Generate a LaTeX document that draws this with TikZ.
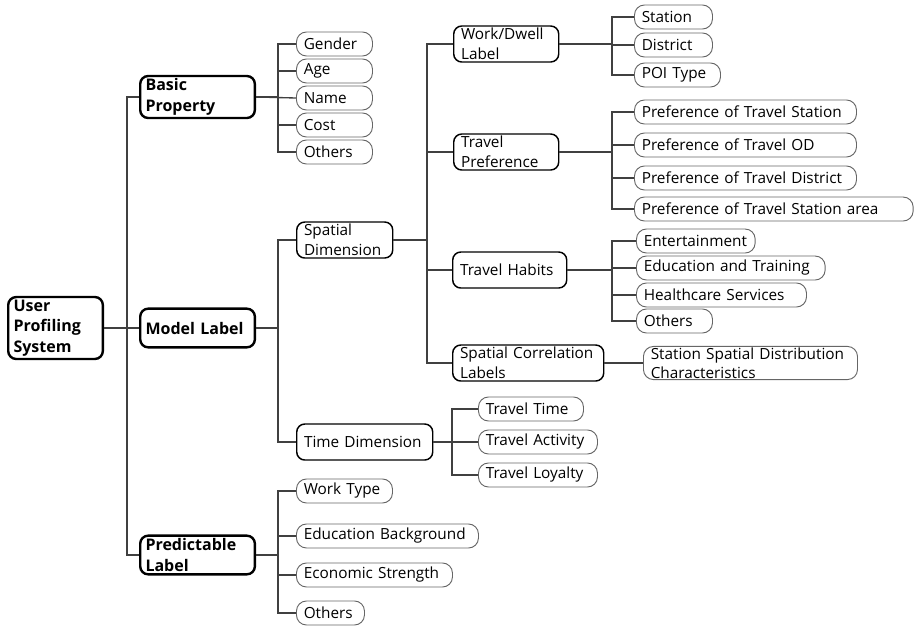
\documentclass[tikz,border=0pt]{standalone}
\usepackage{fontspec}
\setmainfont{Open Sans}
\usetikzlibrary{calc}
\hyphenpenalty=10000
\exhyphenpenalty=10000

\begin{document}
\begin{tikzpicture}[x=0.75pt, y=-0.75pt,
    link/.style={draw=black!75, line width=1pt},
    sysbox/.style={draw=black, line width=1.8pt, rounded corners=6pt, align=left, text width=63pt, inner xsep=4pt, inner ysep=2pt, font=\fontsize{12}{15.5}\selectfont\bfseries},
    catbox/.style={draw=black, line width=1.8pt, rounded corners=6pt, align=left, text width=78pt, inner xsep=4pt, inner ysep=2pt, minimum height=29pt, font=\fontsize{12}{15.5}\selectfont\bfseries},
    dimbox/.style={draw=black, line width=1.1pt, rounded corners=6pt, align=left, text width=#1, inner xsep=5.5pt, inner ysep=1pt, minimum height=27pt, font=\fontsize{11.5}{15}\selectfont},
    leafbox/.style={draw=black!60, line width=0.7pt, rounded corners=7.5pt, align=left, text width=#1, inner xsep=5.5pt, inner ysep=1pt, minimum height=18pt, font=\fontsize{11.5}{14}\selectfont},
]
    \useasboundingbox (0,0) rectangle (917,625);
    % Trunks
    \coordinate (t0) at (127,0);
    \coordinate (t1) at (278,0);
    \coordinate (t2) at (427,0);
    \coordinate (t3) at (452,0);
    \coordinate (t4) at (612,0);
    % Root and first level
    \node[sysbox, anchor=west] (ups) at (7,328) {User\\Profiling\\System};
    \node[catbox, anchor=west] (basic) at (139,97) {Basic\\Property};
    \node[catbox, anchor=west] (model) at (139,328) {Model Label};
    \node[catbox, anchor=west] (pred) at (139,555) {Predictable\\Label};
    \draw[link] (ups.east) -| (t0 |- basic.west) -- (basic.west);
    \draw[link] (ups.east) -- (model.west);
    \draw[link] (ups.east) -| (t0 |- pred.west) -- (pred.west);
    % Basic property
    \node[leafbox=46pt, anchor=west] (gender) at (296,44) {Gender};
    \node[leafbox=46pt, anchor=west] (age) at (296,71) {Age};
    \node[leafbox=46pt, anchor=west] (name) at (296,98) {Name};
    \node[leafbox=46pt, anchor=west] (cost) at (296,125) {Cost};
    \node[leafbox=46pt, anchor=west] (bpothers) at (296,152) {Others};
    \draw[link] (basic.east) -| (t1 |- gender.west) -- (gender.west);
    \draw[link] (basic.east) -| (t1 |- age.west) -- (age.west);
    \draw[link] (basic.east) -- (name.west);
    \draw[link] (basic.east) -| (t1 |- cost.west) -- (cost.west);
    \draw[link] (basic.east) -| (t1 |- bpothers.west) -- (bpothers.west);
    % Model label
    \node[dimbox=61pt, anchor=west] (spatial) at (296,240) {Spatial\\Dimension};
    \node[dimbox=91pt, anchor=west] (time) at (296,442) {Time Dimension};
    \draw[link] (model.east) -| (t1 |- spatial.west) -- (spatial.west);
    \draw[link] (model.east) -| (t1 |- time.west) -- (time.west);
    % Spatial dimension
    \node[dimbox=67.75pt, anchor=west] (dwell) at (453,44) {Work/Dwell\\Label};
    \node[dimbox=67.75pt, anchor=west] (pref) at (453,152) {Travel\\Preference};
    \node[dimbox=74.5pt, anchor=west] (habit) at (452,270) {Travel Habits};
    \node[dimbox=102.25pt, anchor=west] (corr) at (452,363) {Spatial Correlation\\Labels};
    \draw[link] (spatial.east) -| (t2 |- dwell.west) -- (dwell.west);
    \draw[link] (spatial.east) -| (t2 |- pref.west) -- (pref.west);
    \draw[link] (spatial.east) -| (t2 |- habit.west) -- (habit.west);
    \draw[link] (spatial.east) -| (t2 |- corr.west) -- (corr.west);
    % Work/dwell label
    \node[leafbox=47.5pt, anchor=west] (station) at (634,17) {Station};
    \node[leafbox=47.5pt, anchor=west] (district) at (634,45) {District};
    \node[leafbox=53.5pt, anchor=west] (poi) at (634,75) {POI Type};
    \draw[link] (dwell.east) -| (t4 |- station.west) -- (station.west);
    \draw[link] (dwell.east) -| (t4 |- district.west) -- (district.west);
    \draw[link] (dwell.east) -| (t4 |- poi.west) -- (poi.west);
    % Travel preference
    \node[leafbox=155.5pt, anchor=west] (pstation) at (634,112) {Preference of Travel Station};
    \node[leafbox=155.5pt, anchor=west] (pod) at (634,145) {Preference of Travel OD};
    \node[leafbox=155.5pt, anchor=west] (pdistrict) at (634,178) {Preference of Travel District};
    \node[leafbox=198pt, anchor=west] (parea) at (634,209) {Preference of Travel Station area};
    \draw[link] (pref.east) -| (t4 |- pstation.west) -- (pstation.west);
    \draw[link] (pref.east) -| (t4 |- pod.west) -- (pod.west);
    \draw[link] (pref.east) -| (t4 |- pdistrict.west) -- (pdistrict.west);
    \draw[link] (pref.east) -| (t4 |- parea.west) -- (parea.west);
    % Travel habits
    \node[leafbox=78pt, anchor=west] (fun) at (636,241) {Entertainment};
    \node[leafbox=130.5pt, anchor=west] (edu) at (636,268) {Education and Training};
    \node[leafbox=116.5pt, anchor=west] (health) at (636,295) {Healthcare Services};
    \node[leafbox=46pt, anchor=west] (thothers) at (636,321) {Others};
    \draw[link] (habit.east) -| (t4 |- fun.west) -- (fun.west);
    \draw[link] (habit.east) -| (t4 |- edu.west) -- (edu.west);
    \draw[link] (habit.east) -| (t4 |- health.west) -- (health.west);
    \draw[link] (habit.east) -| (t4 |- thothers.west) -- (thothers.west);
    % Spatial correlation
    \node[leafbox=149.5pt, anchor=west] (distrib) at (643,363) {Station Spatial Distribution\\Characteristics};
    \draw[link] (corr.east) -- (distrib.west);
    % Time dimension
    \node[leafbox=67.75pt, anchor=west] (ttime) at (478,409) {Travel Time};
    \node[leafbox=78.25pt, anchor=west] (tact) at (478,442) {Travel Activity};
    \node[leafbox=78.25pt, anchor=west] (tloyal) at (478,475) {Travel Loyalty};
    \draw[link] (time.east) -| (t3 |- ttime.west) -- (ttime.west);
    \draw[link] (time.east) -- (tact.west);
    \draw[link] (time.east) -| (t3 |- tloyal.west) -- (tloyal.west);
    % Predictable label
    \node[leafbox=61pt, anchor=west] (work) at (296,491) {Work Type};
    \node[leafbox=125.5pt, anchor=west] (edubg) at (296,536) {Education Background};
    \node[leafbox=106pt, anchor=west] (econ) at (296,575) {Economic Strength};
    \node[leafbox=40pt, anchor=west] (plothers) at (296,613) {Others};
    \draw[link] (pred.east) -| (t1 |- work.west) -- (work.west);
    \draw[link] (pred.east) -| (t1 |- edubg.west) -- (edubg.west);
    \draw[link] (pred.east) -| (t1 |- econ.west) -- (econ.west);
    \draw[link] (pred.east) -| (t1 |- plothers.west) -- (plothers.west);
\end{tikzpicture}
\end{document}
